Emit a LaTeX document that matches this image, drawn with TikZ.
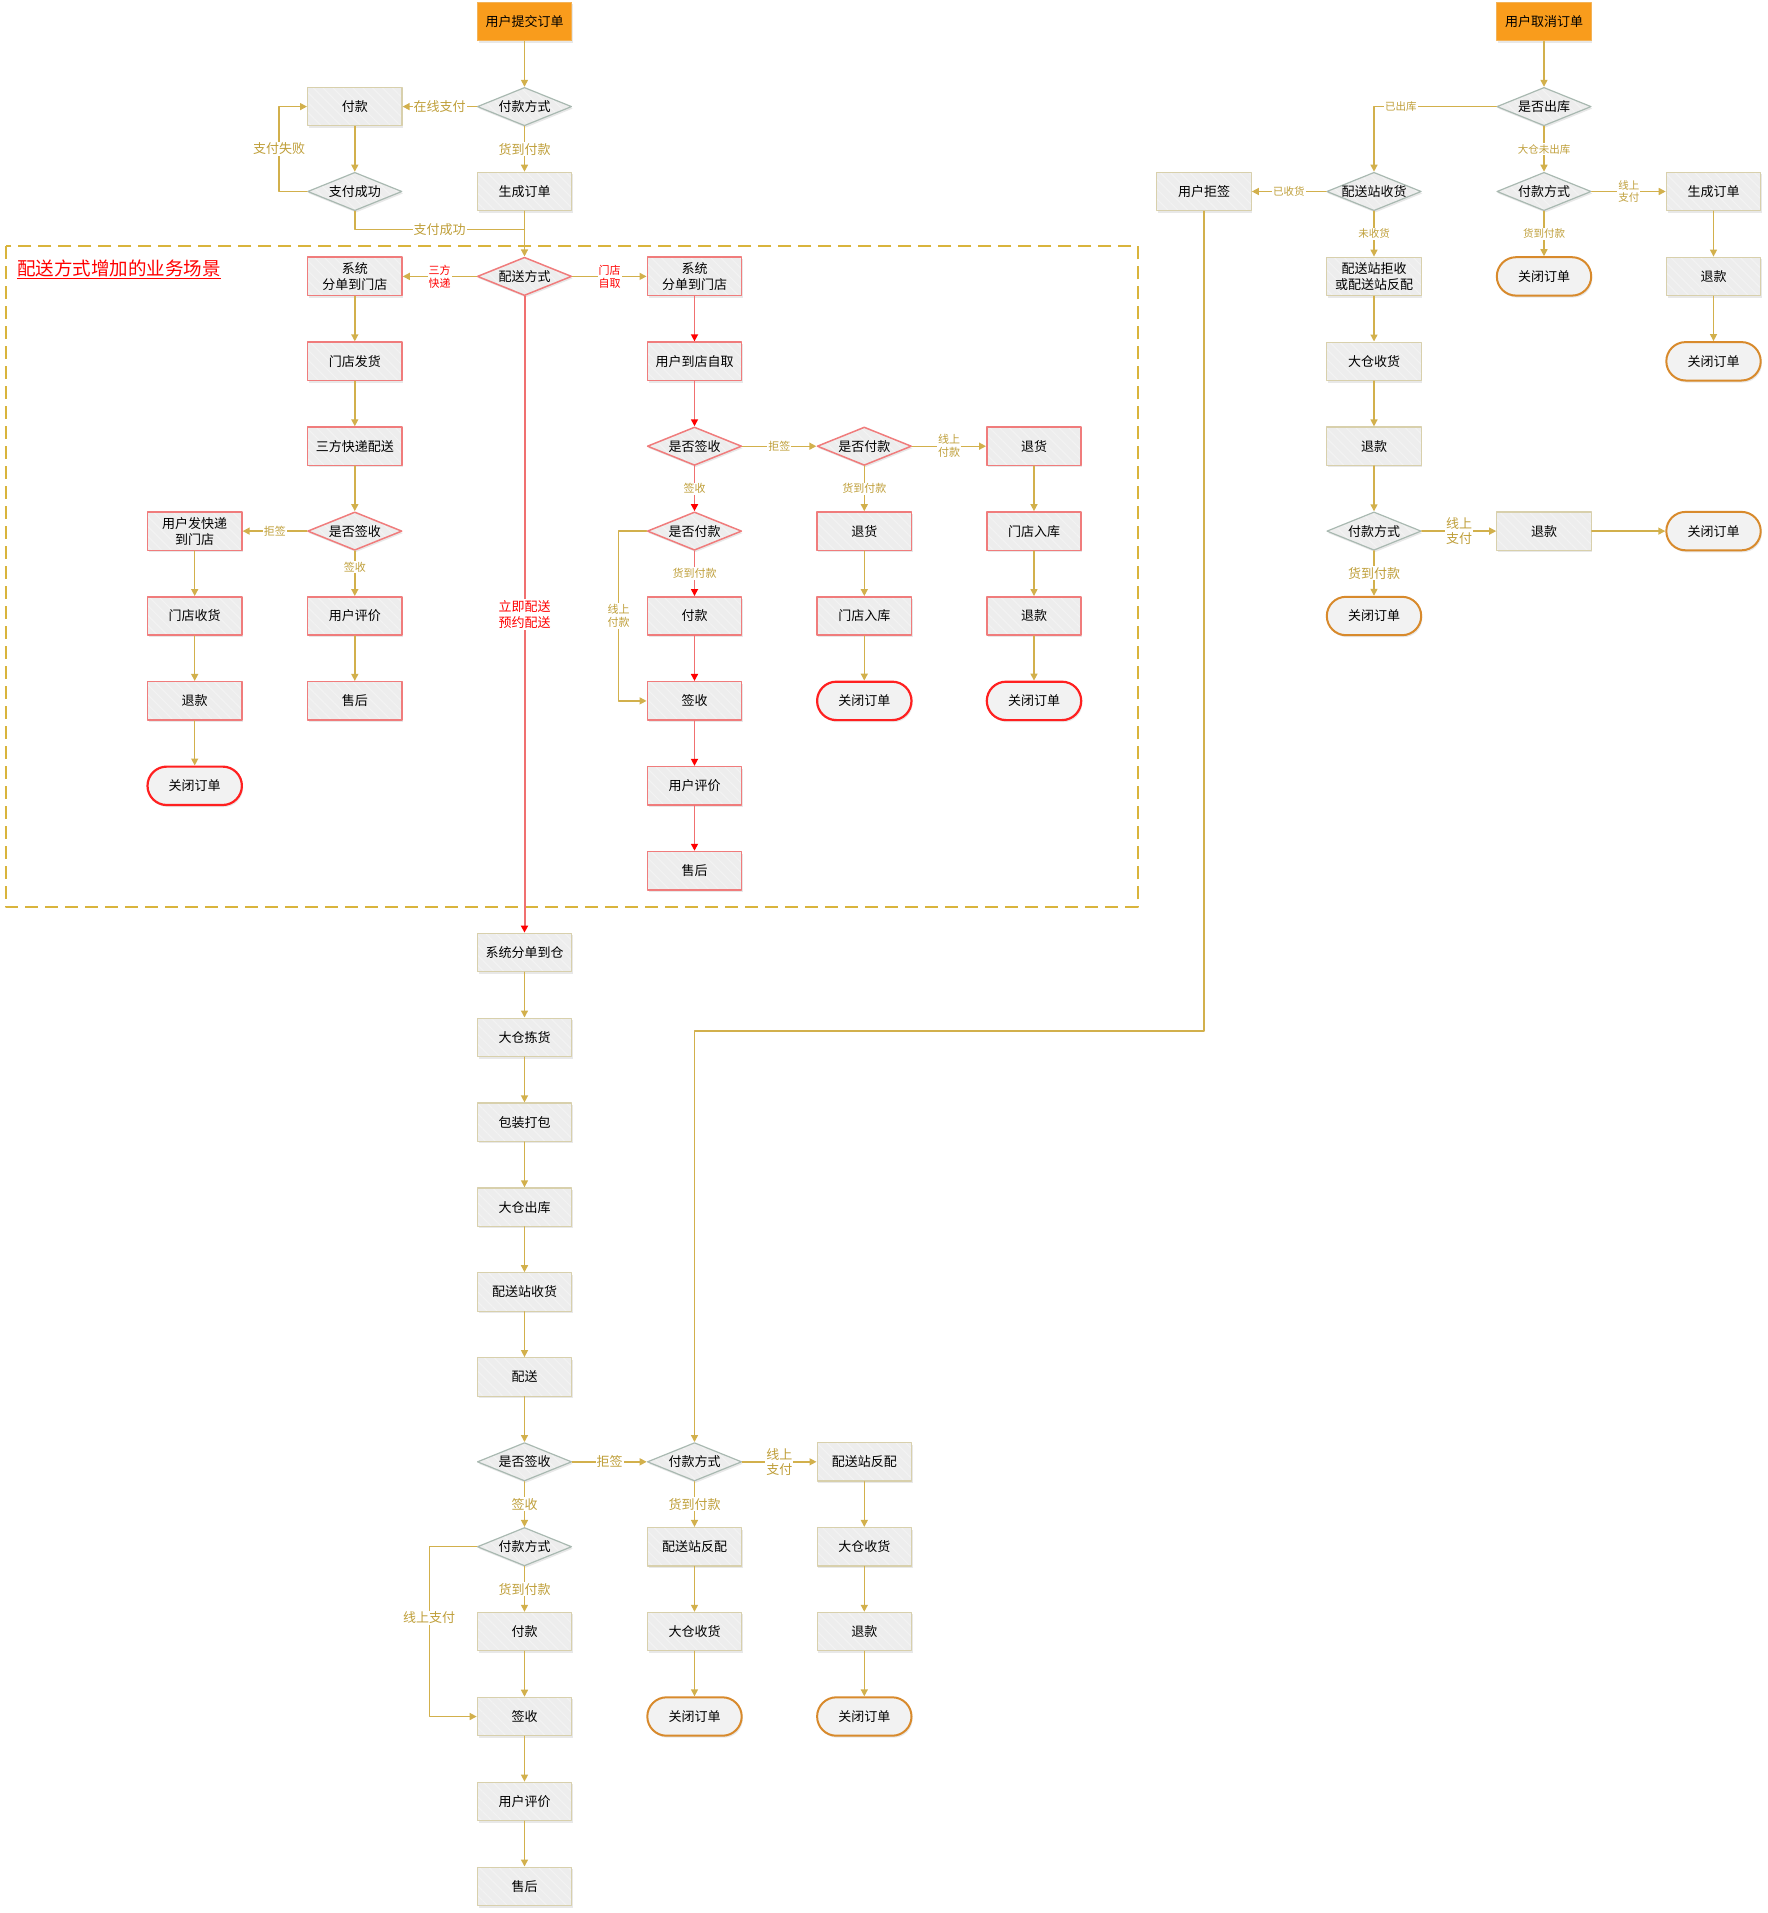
\documentclass[tikz,border=0pt]{standalone}
\usepackage{fontspec}
\setmainfont{Noto Sans CJK SC}
\usetikzlibrary{shapes.geometric,arrows.meta,shadows,patterns.meta}

\definecolor{flowc}{HTML}{D2B04C}
\definecolor{labc}{HTML}{BF9F3A}
\definecolor{boxfill}{HTML}{EDEDED}
\definecolor{boxdraw}{HTML}{D8D0AC}
\definecolor{diadraw}{HTML}{A9B9B1}
\definecolor{redbox}{HTML}{F07C7C}
\definecolor{redline}{HTML}{F07070}
\definecolor{termorange}{HTML}{D88A2C}
\definecolor{termred}{HTML}{FF2020}
\definecolor{startfill}{HTML}{F99C1C}
\definecolor{startdraw}{HTML}{F3B358}
\definecolor{dashc}{HTML}{D9B43C}
\definecolor{hatchc}{HTML}{F3F3F3}

\tikzset{
  hatch/.style={preaction={fill=boxfill},
    preaction={pattern={Lines[angle=-45,distance=7pt,line width=1pt]},pattern color=hatchc}},
  boxbase/.style={minimum width=94.4pt, minimum height=38.4pt, inner sep=1pt, align=center,
    font=\fontsize{13}{16}\selectfont, line width=1.2pt,
    drop shadow={shadow xshift=1.2pt,shadow yshift=-2pt,opacity=0.18}},
  proc/.style={boxbase, rectangle, hatch, draw=boxdraw},
  redproc/.style={proc, draw=redbox, line width=1.5pt},
  startbox/.style={boxbase, rectangle, fill=startfill, draw=startdraw},
  decision/.style={boxbase, diamond, aspect=2.46, inner sep=0pt, hatch, draw=diadraw},
  reddecision/.style={decision, draw=redbox, line width=1.5pt},
  endbox/.style={boxbase, rectangle, rounded corners=19.2pt, fill=boxfill!70!white, draw=termorange, line width=2pt},
  redend/.style={endbox, draw=termred, line width=2.2pt},
  plain/.style={draw=flowc, line width=1.4pt},
  flow/.style={plain, -{Triangle[width=7pt,length=7pt]}},
  redflow/.style={draw=redline, line width=1.6pt, -{Triangle[width=7pt,length=7pt,color=red]}},
  lab/.style={fill=white, inner sep=1pt, text=labc, align=center, font=\fontsize{13}{15}\selectfont},
  slab/.style={lab, font=\fontsize{11}{13}\selectfont},
  tlab/.style={lab, font=\fontsize{10.5}{12.5}\selectfont},
  rlab/.style={slab, text=red},
}

\begin{document}
\begin{tikzpicture}[x=1pt, y=-1pt, line cap=round, line join=round]

  % ════ 新增业务场景的虚线框 ════
  \draw[dashc, line width=2pt, dash pattern=on 13pt off 7pt, line cap=butt] (6,246) rectangle (1138,906.7);
  \node[anchor=west, inner sep=0pt, text=red, font=\fontsize{18.5}{22}\selectfont] (scenetitle) at (17,269.7) {\underline{配送方式增加的业务场景}};

  % ════ 下单与付款 ════
  \node[startbox] (submit) at (524.5,21.7) {用户提交订单};
  \node[decision] (payway) at (524.5,106.6) {付款方式};
  \node[proc] (pay) at (354.8,106.6) {付款};
  \node[decision] (payok) at (354.8,191.5) {支付成功};
  \node[proc] (genorder) at (524.5,191.5) {生成订单};
  \coordinate (okjoin) at (524.5,229.3);

  \draw[flow] (submit) -- (payway);
  \draw[flow] (payway) -- node[lab] {在线支付} (pay);
  \draw[flow] (payway) -- node[lab] {货到付款} (genorder);
  \draw[flow] (pay) -- (payok);
  \draw[flow] (payok.west) -- ++(-28,0) |- node[lab,pos=0.25] {支付失败} (pay.west);
  \draw[plain] (payok.south) |- node[lab,pos=0.75] {支付成功} (okjoin);

  % ════ 配送方式 ════
  \node[reddecision] (dispatch) at (524.5,276.4) {配送方式};
  \node[redproc] (storesplitL) at (354.8,276.4) {系统\\分单到门店};
  \node[redproc] (storesplitR) at (694.5,276.4) {系统\\分单到门店};
  \draw[flow] (genorder) -- (dispatch);
  \draw[flow] (dispatch) -- node[rlab] {三方\\快递} (storesplitL);
  \draw[flow] (dispatch) -- node[rlab] {门店\\自取} (storesplitR);

  % ════ 三方快递 ════
  \node[redproc] (storeship) at (354.8,361.3) {门店发货};
  \node[redproc] (express) at (354.8,446.2) {三方快递配送};
  \node[reddecision] (signL) at (354.8,531.1) {是否签收};
  \node[redproc] (reviewL) at (354.8,616) {用户评价};
  \node[redproc] (afterL) at (354.8,700.9) {售后};
  \node[redproc] (sendback) at (194.7,531.1) {用户发快递\\到门店};
  \node[redproc] (storerecv) at (194.7,616) {门店收货};
  \node[redproc] (refundL) at (194.7,700.9) {退款};
  \node[redend] (closeL) at (194.7,785.8) {关闭订单};

  \draw[flow] (storesplitL) -- (storeship);
  \draw[flow] (storeship) -- (express);
  \draw[flow] (express) -- (signL);
  \draw[flow] (signL) -- node[slab,pos=0.35] {签收} (reviewL);
  \draw[flow] (reviewL) -- (afterL);
  \draw[flow] (signL) -- node[slab] {拒签} (sendback);
  \draw[flow] (sendback) -- (storerecv);
  \draw[flow] (storerecv) -- (refundL);
  \draw[flow] (refundL) -- (closeL);

  % ════ 门店自取 ════
  \node[redproc] (selfpick) at (694.5,361.3) {用户到店自取};
  \node[reddecision] (signR) at (694.5,446.2) {是否签收};
  \node[reddecision] (paidR) at (694.5,531.1) {是否付款};
  \node[redproc] (payR) at (694.5,616) {付款};
  \node[redproc] (signedR) at (694.5,700.9) {签收};
  \node[redproc] (reviewR) at (694.5,785.8) {用户评价};
  \node[redproc] (afterR) at (694.5,870.7) {售后};
  \node[reddecision] (paidX) at (864.3,446.2) {是否付款};
  \node[redproc] (returnA) at (864.3,531.1) {退货};
  \node[redproc] (storeinA) at (864.3,616) {门店入库};
  \node[redend] (closeA) at (864.3,700.9) {关闭订单};
  \node[redproc] (returnB) at (1034,446.2) {退货};
  \node[redproc] (storeinB) at (1034,531.1) {门店入库};
  \node[redproc] (refundB) at (1034,616) {退款};
  \node[redend] (closeB) at (1034,700.9) {关闭订单};

  \draw[redflow] (storesplitR) -- (selfpick);
  \draw[redflow] (selfpick) -- (signR);
  \draw[redflow] (signR) -- node[slab] {签收} (paidR);
  \draw[redflow] (paidR) -- node[slab] {货到付款} (payR);
  \draw[redflow] (payR) -- (signedR);
  \draw[redflow] (signedR) -- (reviewR);
  \draw[redflow] (reviewR) -- (afterR);
  \draw[flow] (paidR.west) -- ++(-28,0) |- node[slab,pos=0.25] {线上\\付款} (signedR.west);
  \draw[flow] (signR) -- node[slab] {拒签} (paidX);
  \draw[flow] (paidX) -- node[slab] {线上\\付款} (returnB);
  \draw[flow] (paidX) -- node[slab] {货到付款} (returnA);
  \draw[flow] (returnA) -- (storeinA);
  \draw[flow] (storeinA) -- (closeA);
  \draw[flow] (returnB) -- (storeinB);
  \draw[flow] (storeinB) -- (refundB);
  \draw[flow] (refundB) -- (closeB);

  % ════ 大仓配送 ════
  \node[proc] (warehouse) at (524.5,952.4) {系统分单到仓};
  \node[proc] (picking) at (524.5,1037.3) {大仓拣货};
  \node[proc] (packing) at (524.5,1122.2) {包装打包};
  \node[proc] (outbound) at (524.5,1207.1) {大仓出库};
  \node[proc] (stationin) at (524.5,1292) {配送站收货};
  \node[proc] (delivery) at (524.5,1376.9) {配送};
  \node[decision] (signM) at (524.5,1461.8) {是否签收};
  \node[decision] (paywayM) at (524.5,1546.7) {付款方式};
  \node[proc] (payM) at (524.5,1631.6) {付款};
  \node[proc] (signedM) at (524.5,1716.5) {签收};
  \node[proc] (reviewM) at (524.5,1801.4) {用户评价};
  \node[proc] (afterM) at (524.5,1886.3) {售后};
  \node[decision] (paywayN) at (694.5,1461.8) {付款方式};
  \node[proc] (rematchN) at (694.5,1546.7) {配送站反配};
  \node[proc] (backN) at (694.5,1631.6) {大仓收货};
  \node[endbox] (closeN) at (694.5,1716.5) {关闭订单};
  \node[proc] (rematchO) at (864.3,1461.8) {配送站反配};
  \node[proc] (backO) at (864.3,1546.7) {大仓收货};
  \node[proc] (refundO) at (864.3,1631.6) {退款};
  \node[endbox] (closeO) at (864.3,1716.5) {关闭订单};

  \draw[redflow, line width=2pt] (dispatch) -- node[rlab,font=\fontsize{13}{16}\selectfont] {立即配送\\预约配送} (warehouse);
  \draw[flow] (warehouse) -- (picking);
  \draw[flow] (picking) -- (packing);
  \draw[flow] (packing) -- (outbound);
  \draw[flow] (outbound) -- (stationin);
  \draw[flow] (stationin) -- (delivery);
  \draw[flow] (delivery) -- (signM);
  \draw[flow] (signM) -- node[lab] {签收} (paywayM);
  \draw[flow] (paywayM) -- node[lab] {货到付款} (payM);
  \draw[flow] (payM) -- (signedM);
  \draw[flow] (paywayM.west) -- ++(-47.5,0) |- node[lab,pos=0.21] {线上支付} (signedM.west);
  \draw[flow] (signedM) -- (reviewM);
  \draw[flow] (reviewM) -- (afterM);
  \draw[flow] (signM) -- node[lab] {拒签} (paywayN);
  \draw[flow] (paywayN) -- node[lab] {线上\\支付} (rematchO);
  \draw[flow] (paywayN) -- node[lab] {货到付款} (rematchN);
  \draw[flow] (rematchN) -- (backN);
  \draw[flow] (backN) -- (closeN);
  \draw[flow] (rematchO) -- (backO);
  \draw[flow] (backO) -- (refundO);
  \draw[flow] (refundO) -- (closeO);

  % ════ 取消订单 ════
  \node[startbox] (cancel) at (1544,21.7) {用户取消订单};
  \node[decision] (shipped) at (1544,106.6) {是否出库};
  \node[decision] (stationq) at (1374,191.5) {配送站收货};
  \node[proc] (reject) at (1204,191.5) {用户拒签};
  \node[decision] (paywayC) at (1544,191.5) {付款方式};
  \node[proc] (genC) at (1713.5,191.5) {生成订单};
  \node[endbox] (closeC) at (1544,276.4) {关闭订单};
  \node[proc] (refundC) at (1713.5,276.4) {退款};
  \node[endbox] (closeD) at (1713.5,361.3) {关闭订单};
  \node[proc] (stationback) at (1374,276.4) {配送站拒收\\或配送站反配};
  \node[proc] (bigrecv) at (1374,361.3) {大仓收货};
  \node[proc] (refundS) at (1374,446.2) {退款};
  \node[decision] (paywayS) at (1374,531.1) {付款方式};
  \node[endbox] (closeS) at (1374,616) {关闭订单};
  \node[proc] (refundT) at (1544,531.1) {退款};
  \node[endbox] (closeT) at (1713.5,531.1) {关闭订单};
  \coordinate (rejturn) at (694.5,1031);

  \draw[flow] (cancel) -- (shipped);
  \draw[flow] (shipped.west) -| node[tlab,pos=0.39] {已出库} (stationq.north);
  \draw[flow] (shipped) -- node[tlab] {大仓未出库} (paywayC);
  \draw[flow] (paywayC) -- node[tlab] {线上\\支付} (genC);
  \draw[flow] (paywayC) -- node[tlab] {货到付款} (closeC);
  \draw[flow] (genC) -- (refundC);
  \draw[flow] (refundC) -- (closeD);
  \draw[flow] (stationq) -- node[tlab] {已收货} (reject);
  \draw[flow] (stationq) -- node[tlab] {未收货} (stationback);
  \draw[flow] (stationback) -- (bigrecv);
  \draw[flow] (bigrecv) -- (refundS);
  \draw[flow] (refundS) -- (paywayS);
  \draw[flow] (paywayS) -- node[lab] {线上\\支付} (refundT);
  \draw[flow] (paywayS) -- node[lab] {货到付款} (closeS);
  \draw[flow] (refundT) -- (closeT);
  \draw[flow] (reject.south) |- (rejturn) -- (paywayN.north);

  \path[use as bounding box] (0,0) rectangle (1767,1913);
\end{tikzpicture}
\end{document}
